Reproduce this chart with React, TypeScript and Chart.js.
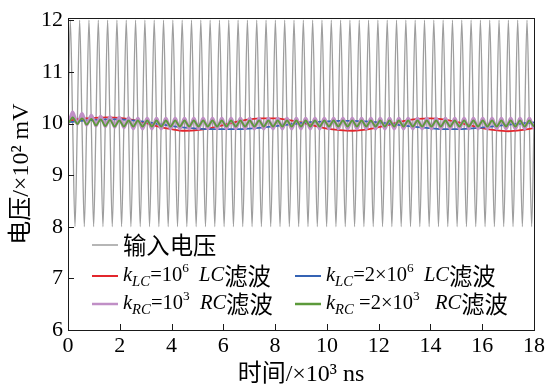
import React, { useEffect, useRef } from 'react';
import { Chart, registerables } from 'chart.js';

Chart.register(...registerables);

// ---- data (time in ×10³ ns, voltage in ×10² mV) ----
const sampleTimes = [
  0, 0.09, 0.18, 0.27, 0.36, 0.45, 0.54, 0.63, 0.72, 0.81, 0.9, 0.99, 1.08, 1.17, 1.26, 1.35,
  1.44, 1.53, 1.62, 1.71, 1.8, 1.89, 1.98, 2.07, 2.16, 2.25, 2.34, 2.43, 2.52, 2.61, 2.7, 2.79,
  2.88, 2.97, 3.06, 3.15, 3.24, 3.33, 3.42, 3.51, 3.6, 3.69, 3.78, 3.87, 3.96, 4.05, 4.14, 4.23,
  4.32, 4.41, 4.5, 4.59, 4.68, 4.77, 4.86, 4.95, 5.04, 5.13, 5.22, 5.31, 5.4, 5.49, 5.58, 5.67,
  5.76, 5.85, 5.94, 6.03, 6.12, 6.21, 6.3, 6.39, 6.48, 6.57, 6.66, 6.75, 6.84, 6.93, 7.02, 7.11,
  7.2, 7.29, 7.38, 7.47, 7.56, 7.65, 7.74, 7.83, 7.92, 8.01, 8.1, 8.19, 8.28, 8.37, 8.46, 8.55,
  8.64, 8.73, 8.82, 8.91, 9, 9.09, 9.18, 9.27, 9.36, 9.45, 9.54, 9.63, 9.72, 9.81, 9.9, 9.99,
  10.08, 10.17, 10.26, 10.35, 10.44, 10.53, 10.62, 10.71, 10.8, 10.89, 10.98, 11.07, 11.16, 11.25, 11.34, 11.43,
  11.52, 11.61, 11.7, 11.79, 11.88, 11.97, 12.06, 12.15, 12.24, 12.33, 12.42, 12.51, 12.6, 12.69, 12.78, 12.87,
  12.96, 13.05, 13.14, 13.23, 13.32, 13.41, 13.5, 13.59, 13.68, 13.77, 13.86, 13.95, 14.04, 14.13, 14.22, 14.31,
  14.4, 14.49, 14.58, 14.67, 14.76, 14.85, 14.94, 15.03, 15.12, 15.21, 15.3, 15.39, 15.48, 15.57, 15.66, 15.75,
  15.84, 15.93, 16.02, 16.11, 16.2, 16.29, 16.38, 16.47, 16.56, 16.65, 16.74, 16.83, 16.92, 17.01, 17.1, 17.19,
  17.28, 17.37, 17.46, 17.55, 17.64, 17.73, 17.82, 17.91, 18,
];

const inputVoltage = [
  10, 12, 10, 8, 10, 12, 10, 8, 10, 12, 10, 8, 10, 12, 10, 8,
  10, 12, 10, 8, 10, 12, 10, 8, 10, 12, 10, 8, 10, 12, 10, 8,
  10, 12, 10, 8, 10, 12, 10, 8, 10, 12, 10, 8, 10, 12, 10, 8,
  10, 12, 10, 8, 10, 12, 10, 8, 10, 12, 10, 8, 10, 12, 10, 8,
  10, 12, 10, 8, 10, 12, 10, 8, 10, 12, 10, 8, 10, 12, 10, 8,
  10, 12, 10, 8, 10, 12, 10, 8, 10, 12, 10, 8, 10, 12, 10, 8,
  10, 12, 10, 8, 10, 12, 10, 8, 10, 12, 10, 8, 10, 12, 10, 8,
  10, 12, 10, 8, 10, 12, 10, 8, 10, 12, 10, 8, 10, 12, 10, 8,
  10, 12, 10, 8, 10, 12, 10, 8, 10, 12, 10, 8, 10, 12, 10, 8,
  10, 12, 10, 8, 10, 12, 10, 8, 10, 12, 10, 8, 10, 12, 10, 8,
  10, 12, 10, 8, 10, 12, 10, 8, 10, 12, 10, 8, 10, 12, 10, 8,
  10, 12, 10, 8, 10, 12, 10, 8, 10, 12, 10, 8, 10, 12, 10, 8,
  10, 12, 10, 8, 10, 12, 10, 8, 10,
];

const rcK1e3 = [
  10, 10.11, 10.22, 10.11, 9.99, 10.09, 10.19, 10.09, 9.97, 10.07, 10.16, 10.07, 9.95, 10.05, 10.14, 10.05,
  9.94, 10.03, 10.13, 10.03, 9.93, 10.02, 10.12, 10.02, 9.92, 10.01, 10.11, 10.01, 9.9, 10, 10.1, 10,
  9.9, 10, 10.1, 10, 9.9, 10, 10.1, 10, 9.9, 10, 10.1, 10, 9.9, 10, 10.1, 10,
  9.9, 10, 10.1, 10, 9.9, 10, 10.1, 10, 9.9, 10, 10.1, 10, 9.9, 10, 10.1, 10,
  9.9, 10, 10.1, 10, 9.9, 10, 10.1, 10, 9.9, 10, 10.1, 10, 9.9, 10, 10.1, 10,
  9.9, 10, 10.1, 10, 9.9, 10, 10.1, 10, 9.9, 10, 10.1, 10, 9.9, 10, 10.1, 10,
  9.9, 10, 10.1, 10, 9.9, 10, 10.1, 10, 9.9, 10, 10.1, 10, 9.9, 10, 10.1, 10,
  9.9, 10, 10.1, 10, 9.9, 10, 10.1, 10, 9.9, 10, 10.1, 10, 9.9, 10, 10.1, 10,
  9.9, 10, 10.1, 10, 9.9, 10, 10.1, 10, 9.9, 10, 10.1, 10, 9.9, 10, 10.1, 10,
  9.9, 10, 10.1, 10, 9.9, 10, 10.1, 10, 9.9, 10, 10.1, 10, 9.9, 10, 10.1, 10,
  9.9, 10, 10.1, 10, 9.9, 10, 10.1, 10, 9.9, 10, 10.1, 10, 9.9, 10, 10.1, 10,
  9.9, 10, 10.1, 10, 9.9, 10, 10.1, 10, 9.9, 10, 10.1, 10, 9.9, 10, 10.1, 10,
  9.9, 10, 10.1, 10, 9.9, 10, 10.1, 10, 9.9,
];

const rcK2e3 = [
  10, 10.06, 10.12, 10.06, 9.99, 10.05, 10.1, 10.05, 9.98, 10.03, 10.09, 10.03, 9.96, 10.02, 10.08, 10.02,
  9.95, 10.01, 10.07, 10.01, 9.94, 10, 10.06, 10, 9.94, 10, 10.06, 10, 9.94, 10, 10.06, 10,
  9.94, 10, 10.06, 10, 9.94, 10, 10.06, 10, 9.94, 10, 10.06, 10, 9.94, 10, 10.06, 10,
  9.94, 10, 10.06, 10, 9.94, 10, 10.06, 10, 9.94, 10, 10.06, 10, 9.94, 10, 10.06, 10,
  9.94, 10, 10.06, 10, 9.94, 10, 10.06, 10, 9.94, 10, 10.06, 10, 9.94, 10, 10.06, 10,
  9.94, 10, 10.06, 10, 9.94, 10, 10.06, 10, 9.94, 10, 10.06, 10, 9.94, 10, 10.06, 10,
  9.94, 10, 10.06, 10, 9.94, 10, 10.06, 10, 9.94, 10, 10.06, 10, 9.94, 10, 10.06, 10,
  9.94, 10, 10.06, 10, 9.94, 10, 10.06, 10, 9.94, 10, 10.06, 10, 9.94, 10, 10.06, 10,
  9.94, 10, 10.06, 10, 9.94, 10, 10.06, 10, 9.94, 10, 10.06, 10, 9.94, 10, 10.06, 10,
  9.94, 10, 10.06, 10, 9.94, 10, 10.06, 10, 9.94, 10, 10.06, 10, 9.94, 10, 10.06, 10,
  9.94, 10, 10.06, 10, 9.94, 10, 10.06, 10, 9.94, 10, 10.06, 10, 9.94, 10, 10.06, 10,
  9.94, 10, 10.06, 10, 9.94, 10, 10.06, 10, 9.94, 10, 10.06, 10, 9.94, 10, 10.06, 10,
  9.94, 10, 10.06, 10, 9.94, 10, 10.06, 10, 9.94,
];

const lcTimes = [
  0, 0.5, 1, 1.5, 2, 2.5, 3, 3.5, 4, 4.5, 5, 5.5, 6, 6.5, 7, 7.5, 8, 8.5, 9,
  9.5, 10, 10.5, 11, 11.5, 12, 12.5, 13, 13.5, 14, 14.5, 15, 15.5, 16, 16.5, 17, 17.5, 18,
];

const lcK1e6 = [
  10.05, 10.09, 10.11, 10.12, 10.11, 10.07, 10.01, 9.94, 9.89, 9.86, 9.87, 9.91, 9.97, 10.03, 10.08, 10.1, 10.1, 10.07, 10.02,
  9.96, 9.9, 9.87, 9.86, 9.88, 9.93, 9.99, 10.05, 10.09, 10.1, 10.08, 10.03, 9.97, 9.91, 9.87, 9.85, 9.87, 9.91,
];

const lcK2e6 = [
  10.02, 10.05, 10.07, 10.08, 10.08, 10.06, 10.03, 9.99, 9.95, 9.92, 9.9, 9.89, 9.89, 9.89, 9.9, 9.92, 9.95, 9.98, 10.01,
  10.03, 10.04, 10.05, 10.05, 10.04, 10.02, 9.99, 9.96, 9.93, 9.91, 9.89, 9.89, 9.9, 9.92, 9.95, 9.98, 10.0, 10.02,
];

const xTickValues = [0, 2, 4, 6, 8, 10, 12, 14, 16, 18];
const yTickValues = [6, 7, 8, 9, 10, 11, 12];

const xTitle = '时间/×10³ ns';
const yTitle = '电压/×10² mV';

type Seg = { t: string; it?: boolean; sub?: boolean; sup?: boolean; cjk?: boolean };

const legendInput: Seg[] = [{ t: '输入电压', cjk: true }];
const legendLC1: Seg[] = [
  { t: 'k', it: true }, { t: 'LC', it: true, sub: true }, { t: '=10' }, { t: '6', sup: true },
  { t: '  ' }, { t: 'LC', it: true }, { t: '滤波', cjk: true },
];
const legendLC2: Seg[] = [
  { t: 'k', it: true }, { t: 'LC', it: true, sub: true }, { t: '=2×10' }, { t: '6', sup: true },
  { t: '  ' }, { t: 'LC', it: true }, { t: '滤波', cjk: true },
];
const legendRC1: Seg[] = [
  { t: 'k', it: true }, { t: 'RC', it: true, sub: true }, { t: '=10' }, { t: '3', sup: true },
  { t: '  ' }, { t: 'RC', it: true }, { t: '滤波', cjk: true },
];
const legendRC2: Seg[] = [
  { t: 'k', it: true }, { t: 'RC', it: true, sub: true }, { t: ' =2×10' }, { t: '3', sup: true },
  { t: '   ' }, { t: 'RC', it: true }, { t: '滤波', cjk: true },
];

const COLORS = {
  input: '#9e9e9e',
  lc1: '#e3262c',
  lc2: '#3563b4',
  rc1: '#c08fc6',
  rc2: '#5c9a3b',
};

const SERIF = "'Liberation Serif', 'Times New Roman', serif";
const CJK = "'Noto Sans CJK SC', sans-serif";
const MIXED = "'Liberation Serif', 'Noto Sans CJK SC', serif";

function drawRich(ctx: CanvasRenderingContext2D, segs: Seg[], x: number, y: number, size: number) {
  let cx = x;
  for (const s of segs) {
    let fs = size;
    let dy = 0;
    if (s.sub) { fs = size * 0.72; dy = size * 0.3; }
    if (s.sup) { fs = size * 0.65; dy = -size * 0.36; }
    const fam = s.cjk ? CJK : SERIF;
    const f = s.cjk ? size * 1.14 : fs;
    ctx.font = `${s.it ? 'italic ' : ''}${f}px ${fam}`;
    ctx.fillText(s.t, cx, y + dy);
    cx += ctx.measureText(s.t).width;
  }
}

const framePlugin = {
  id: 'framePlugin',
  afterDraw(chart: any) {
    const { ctx, chartArea: a, scales } = chart;
    ctx.save();
    ctx.strokeStyle = '#1a1a1a';
    ctx.lineWidth = 1;
    ctx.strokeRect(Math.round(a.left) + 0.5, Math.round(a.top) + 0.5, Math.round(a.right - a.left), Math.round(a.bottom - a.top));
    ctx.beginPath();
    for (const v of xTickValues) {
      const px = Math.round(scales.x.getPixelForValue(v)) + 0.5;
      ctx.moveTo(px, a.bottom);
      ctx.lineTo(px, a.bottom - 6);
    }
    for (const v of yTickValues) {
      const py = Math.round(scales.y.getPixelForValue(v)) + 0.5;
      ctx.moveTo(a.left, py);
      ctx.lineTo(a.left + 6, py);
    }
    ctx.stroke();

    const items = [
      { segs: legendInput, color: COLORS.input, w: 1.5, x: 92, y: 245 },
      { segs: legendLC1, color: COLORS.lc1, w: 2, x: 92, y: 276 },
      { segs: legendLC2, color: COLORS.lc2, w: 2, x: 295, y: 276 },
      { segs: legendRC1, color: COLORS.rc1, w: 2.5, x: 92, y: 304 },
      { segs: legendRC2, color: COLORS.rc2, w: 2.5, x: 295, y: 304 },
    ];
    ctx.textBaseline = 'middle';
    ctx.fillStyle = '#000';
    for (const it of items) {
      ctx.beginPath();
      ctx.strokeStyle = it.color;
      ctx.lineWidth = it.w;
      ctx.moveTo(it.x, it.y);
      ctx.lineTo(it.x + 26, it.y);
      ctx.stroke();
      drawRich(ctx, it.segs, it.x + 31, it.y, 20.5);
    }
    ctx.restore();
  },
};

export default function App() {
  const ref = useRef<HTMLCanvasElement>(null);
  useEffect(() => {
    const toXY = (xs: number[], ys: number[]) => xs.map((x, i) => ({ x, y: ys[i] }));
    const chart = new Chart(ref.current as HTMLCanvasElement, {
      type: 'line',
      data: {
        datasets: [
          { label: '输入电压', data: toXY(sampleTimes, inputVoltage), borderColor: COLORS.input, borderWidth: 1.3, pointRadius: 0, cubicInterpolationMode: 'monotone', order: 4 },
          { label: 'kLC=10^6 LC滤波', data: toXY(lcTimes, lcK1e6), borderColor: COLORS.lc1, borderWidth: 1.8, pointRadius: 0, cubicInterpolationMode: 'monotone', order: 3 },
          { label: 'kLC=2×10^6 LC滤波', data: toXY(lcTimes, lcK2e6), borderColor: COLORS.lc2, borderWidth: 1.8, pointRadius: 0, cubicInterpolationMode: 'monotone', order: 2 },
          { label: 'kRC=10^3 RC滤波', data: toXY(sampleTimes, rcK1e3), borderColor: COLORS.rc1, borderWidth: 3.2, pointRadius: 0, cubicInterpolationMode: 'monotone', order: 1 },
          { label: 'kRC=2×10^3 RC滤波', data: toXY(sampleTimes, rcK2e3), borderColor: COLORS.rc2, borderWidth: 1.8, pointRadius: 0, cubicInterpolationMode: 'monotone', order: 0 },
        ] as any,
      },
      options: {
        responsive: false,
        animation: false,
        devicePixelRatio: 1,
        layout: { padding: { top: 15, right: 16, bottom: 0, left: 0 } },
        plugins: { legend: { display: false }, tooltip: { enabled: false } },
        scales: {
          x: {
            type: 'linear',
            min: 0,
            max: 18,
            afterBuildTicks: (s: any) => { s.ticks = xTickValues.map((v) => ({ value: v })); },
            afterFit: (s: any) => { s.height = 59; },
            ticks: { color: '#000', font: { family: SERIF, size: 22 }, padding: 3, maxRotation: 0 },
            grid: { display: false, drawTicks: false },
            border: { display: false },
            title: { display: true, text: xTitle, color: '#000', font: { family: MIXED, size: 24 }, padding: { top: 0, bottom: 0 } },
          },
          y: {
            type: 'linear',
            min: 6,
            max: 12.04,
            afterBuildTicks: (s: any) => { s.ticks = yTickValues.map((v) => ({ value: v })); },
            afterFit: (s: any) => { s.width = 68; },
            ticks: { color: '#000', font: { family: SERIF, size: 22 }, padding: 5 },
            grid: { display: false, drawTicks: false },
            border: { display: false },
            title: { display: true, text: yTitle, color: '#000', font: { family: MIXED, size: 24 }, padding: { top: 7, bottom: 0 } },
          },
        },
      } as any,
      plugins: [framePlugin],
    });
    return () => chart.destroy();
  }, []);
  return (
    <div style={{ position: 'absolute', left: 0, top: 0, width: 550, height: 389, background: '#fff' }}>
      <canvas ref={ref} width={550} height={389} style={{ display: 'block', width: 550, height: 389 }} />
    </div>
  );
}
